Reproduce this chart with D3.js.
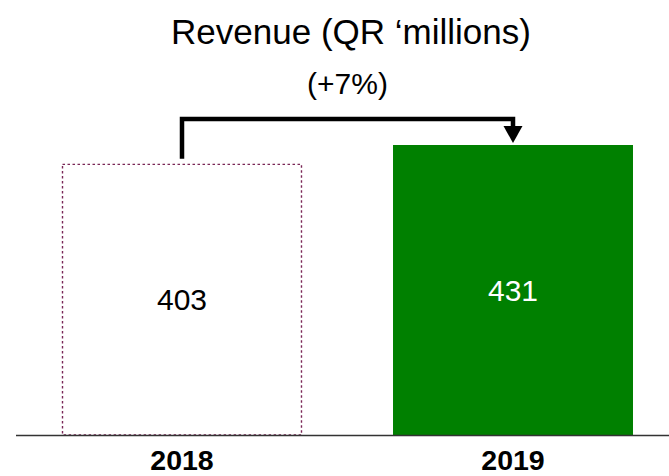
<!DOCTYPE html>
<html>
<head>
<meta charset="utf-8">
<script src="https://cdn.jsdelivr.net/npm/d3@7"></script>
<style>
  html, body { margin: 0; padding: 0; background: #fff; }
  svg { display: block; font-family: "Liberation Sans", Arial, Helvetica, sans-serif; }
</style>
</head>
<body>
<svg id="chart" width="669" height="476"></svg>
<script>
const categories = ["2018", "2019"];
const values = [403, 431];
const valueLabels = ["403", "431"];
const titleText = "Revenue (QR \u2018millions)";
const changeLabel = "(+7%)";

const W = 669, H = 476;
const baseY = 435, topY = 145;
const svg = d3.select("#chart");

const x = d3.scaleBand()
  .domain(categories)
  .range([16, 679])
  .paddingInner(0.275)
  .paddingOuter(0.139);

const y = d3.scaleLinear()
  .domain([0, d3.max(values)])
  .range([baseY, topY]);

const data = categories.map((c, i) => ({ cat: c, value: values[i], label: valueLabels[i], i }));

// Title
svg.append("text")
  .attr("x", 351).attr("y", 44)
  .attr("text-anchor", "middle")
  .attr("font-size", 35)
  .attr("fill", "#000")
  .text(titleText);

// Bars
svg.selectAll("rect.bar")
  .data(data)
  .join("rect")
  .attr("class", "bar")
  .attr("x", d => x(d.cat) + (d.i === 0 ? 0.5 : 0))
  .attr("y", d => y(d.value) + (d.i === 0 ? 0.5 : 0))
  .attr("width", d => x.bandwidth() - (d.i === 0 ? 1 : 0))
  .attr("height", d => baseY - y(d.value) - (d.i === 0 ? 0.5 : 0))
  .attr("fill", d => d.i === 0 ? "#fff" : "#008000")
  .attr("stroke", d => d.i === 0 ? "#7a2656" : "none")
  .attr("stroke-width", 1.4)
  .attr("stroke-dasharray", d => d.i === 0 ? "2.5,2.5" : null);

// Value labels
svg.selectAll("text.val")
  .data(data)
  .join("text")
  .attr("class", "val")
  .attr("x", d => x(d.cat) + x.bandwidth() / 2)
  .attr("y", d => (y(d.value) + baseY) / 2 + 10.5)
  .attr("text-anchor", "middle")
  .attr("font-size", 30)
  .attr("fill", d => d.i === 0 ? "#000" : "#fff")
  .text(d => d.label);

// Baseline axis
const xAxis = d3.axisBottom(x).tickSize(0).tickPadding(0);
const axisG = svg.append("g").attr("transform", `translate(0,${baseY})`).call(xAxis);
axisG.select(".domain").remove();
axisG.selectAll("text")
  .attr("y", 35)
  .attr("dy", 0)
  .attr("font-size", 28.5)
  .attr("font-weight", "bold")
  .attr("font-family", "\"Liberation Sans\", Arial, sans-serif")
  .attr("fill", "#000");
svg.append("line")
  .attr("x1", 16).attr("x2", W)
  .attr("y1", baseY + 0.5).attr("y2", baseY + 0.5)
  .attr("stroke", "#333").attr("stroke-width", 1.5);

// Bracket arrow
const cx0 = x(categories[0]) + x.bandwidth() / 2;
const cx1 = x(categories[1]) + x.bandwidth() / 2;
const y0 = y(values[0]) - 5;
const y1 = y(values[1]) - 2;
const yTop = 119;
const headH = 17, headW = 19;
svg.append("path")
  .attr("d", `M${cx0},${y0} V${yTop} H${cx1} V${y1 - headH + 1}`)
  .attr("fill", "none")
  .attr("stroke", "#000")
  .attr("stroke-width", 4.5)
  .attr("stroke-linejoin", "miter");
svg.append("path")
  .attr("d", `M${cx1 - headW / 2},${y1 - headH} L${cx1 + headW / 2},${y1 - headH} L${cx1},${y1} Z`)
  .attr("fill", "#000");

svg.append("text")
  .attr("x", (cx0 + cx1) / 2).attr("y", 94)
  .attr("text-anchor", "middle")
  .attr("font-size", 30)
  .attr("fill", "#000")
  .text(changeLabel);
</script>
</body>
</html>
